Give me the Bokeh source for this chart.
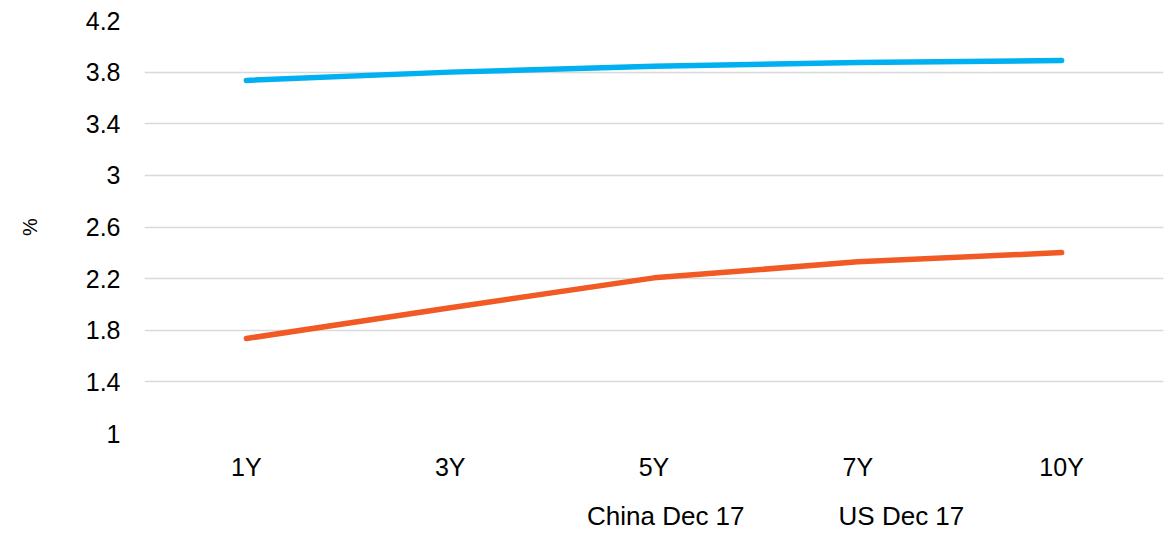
from bokeh.plotting import figure
from bokeh.layouts import column
from bokeh.models import FixedTicker, CustomJSTickFormatter, Legend, LegendItem, Range1d
from bokeh.embed import file_html
from bokeh.resources import INLINE

tenors = ["1Y", "3Y", "5Y", "7Y", "10Y"]
china = [3.736, 3.80, 3.845, 3.875, 3.89]
us = [1.736, 1.974, 2.206, 2.33, 2.402]
y_ticks = [1, 1.4, 1.8, 2.2, 2.6, 3, 3.4, 3.8, 4.2]
series_names = ["China Dec 17", "US Dec 17"]
series_colors = ["#00B0F0", "#F15A24"]

FONT = "Liberation Sans"

p = figure(frame_width=1019, frame_height=413, x_range=tenors, y_range=Range1d(1, 4.2),
           output_backend="svg", toolbar_location=None,
           min_border_left=144, min_border_right=12, min_border_top=20, min_border_bottom=0)
p.outline_line_color = None
p.background_fill_color = "white"
p.border_fill_color = "white"

p.line(tenors, china, line_color=series_colors[0], line_width=5.5, line_cap="round", line_join="round")
p.line(tenors, us, line_color=series_colors[1], line_width=5.5, line_cap="round", line_join="round")

p.yaxis.ticker = FixedTicker(ticks=y_ticks)
p.yaxis.formatter = CustomJSTickFormatter(code="return Number(tick.toFixed(1)).toString();")
for ax in (p.xaxis[0], p.yaxis[0]):
    ax.axis_line_color = None
    ax.major_tick_line_color = None
    ax.minor_tick_line_color = None
    ax.major_tick_out = 0
    ax.major_tick_in = 0
    ax.minor_tick_out = 0
    ax.major_label_text_font = FONT
    ax.major_label_text_font_size = "25px"
    ax.major_label_text_color = "#000000"
p.yaxis.major_label_standoff = 24
p.xaxis.major_label_standoff = 19

p.yaxis.axis_label = "%"
p.yaxis.axis_label_text_font = FONT
p.yaxis.axis_label_text_font_size = "20px"
p.yaxis.axis_label_text_font_style = "normal"
p.yaxis.axis_label_text_color = "#000000"
p.yaxis.axis_label_standoff = 42

p.xgrid.grid_line_color = None
p.ygrid.grid_line_color = "#D9D9D9"
p.ygrid.grid_line_width = 1.5

# separate strip for the legend below the chart
lg = figure(width=1175, height=51, x_range=Range1d(0, 1), y_range=Range1d(0, 1),
            output_backend="svg", toolbar_location=None,
            min_border_left=0, min_border_right=0, min_border_top=0, min_border_bottom=0)
lg.xaxis.visible = False
lg.yaxis.visible = False
lg.xgrid.grid_line_color = None
lg.ygrid.grid_line_color = None
lg.outline_line_color = None
lg.background_fill_color = "white"
lg.border_fill_color = "white"

items = []
for name, col in zip(series_names, series_colors):
    r = lg.line([], [], line_color=col, line_width=5.5, line_cap="round")
    items.append(LegendItem(label=name, renderers=[r]))

legend = Legend(items=items, orientation="horizontal", location=(383, 2),
                label_text_font=FONT, label_text_font_size="26px", label_text_color="#000000",
                glyph_width=57, glyph_height=24, label_standoff=3, spacing=34,
                label_height=24, label_width=0,
                border_line_color=None, background_fill_alpha=0, padding=0, margin=0)
lg.add_layout(legend, "center")

layout = column(p, lg, spacing=0)
open("out.html", "w").write(file_html(layout, INLINE))
